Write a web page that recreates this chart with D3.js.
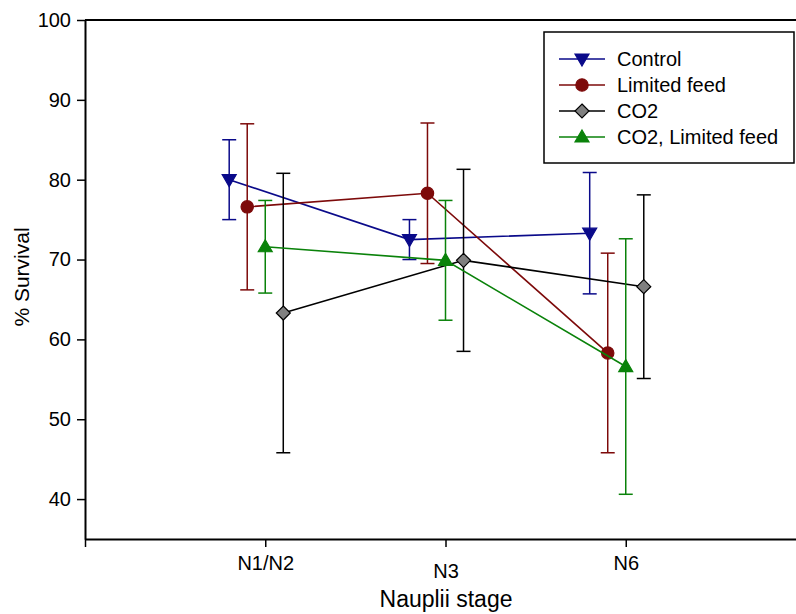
<!DOCTYPE html>
<html>
<head>
<meta charset="utf-8">
<script src="https://cdn.jsdelivr.net/npm/d3@7"></script>
<style>
  html, body { margin: 0; padding: 0; background: #fff; }
  svg { display: block; font-family: "Liberation Sans", Arial, sans-serif; }
</style>
</head>
<body>
<svg id="chart" width="796" height="614"></svg>
<script>
// ---- data ----
const categories = ["N1/N2", "N3", "N6"];
const yTicks = [40, 50, 60, 70, 80, 90, 100];

const controlMean = [80.0, 72.5, 73.3];
const controlErr  = [5.0, 2.5, 7.6];
const limitedMean = [76.6, 78.3, 58.3];
const limitedErr  = [10.4, 8.8, 12.5];
const co2Mean     = [63.3, 69.9, 66.6];
const co2Err      = [17.5, 11.4, 11.5];
const co2lfMean   = [71.6, 69.9, 56.6];
const co2lfErr    = [5.8, 7.5, 16.0];

const seriesNames = ["Control", "Limited feed", "CO2", "CO2, Limited feed"];

// ---- styles ----
const series = [
  { name: seriesNames[0], mean: controlMean, err: controlErr, off: -0.2, color: "#0a0a8a", fill: "#0a0a8a", stroke: "#0a0a8a", shape: "down" },
  { name: seriesNames[1], mean: limitedMean, err: limitedErr, off: -0.1, color: "#7d0a0a", fill: "#7d0a0a", stroke: "#7d0a0a", shape: "circle" },
  { name: seriesNames[2], mean: co2Mean, err: co2Err, off: 0.1, color: "#000000", fill: "#808080", stroke: "#000000", shape: "diamond" },
  { name: seriesNames[3], mean: co2lfMean, err: co2lfErr, off: 0.0, color: "#0a820a", fill: "#0a820a", stroke: "#0a820a", shape: "up" }
];

const svg = d3.select("#chart");
const x = d3.scaleLinear().domain([0, 4]).range([85, 806]);
const y = d3.scaleLinear().domain([35, 100]).range([539, 20]);

function symbolPath(shape) {
  if (shape === "circle") return d3.symbol(d3.symbolCircle, 120)();
  if (shape === "diamond") return "M0,-7L7,0L0,7L-7,0Z";
  if (shape === "up") return "M0,-7L7,5L-7,5Z";
  return "M0,7L7,-5L-7,-5Z";
}

// frame top line
svg.append("line")
  .attr("x1", x(0)).attr("x2", x(4))
  .attr("y1", y(100)).attr("y2", y(100))
  .attr("stroke", "#000").attr("stroke-width", 2);

// y axis
const yAxis = svg.append("g")
  .attr("transform", `translate(${x(0)},0)`)
  .call(d3.axisLeft(y).tickValues(yTicks).tickSize(8).tickPadding(6).tickSizeOuter(0));
yAxis.select(".domain").attr("stroke-width", 2);
yAxis.selectAll(".tick line").attr("stroke-width", 1.5);
yAxis.selectAll("text").attr("font-size", 20).attr("fill", "#000")
  .attr("font-family", "Liberation Sans, Arial, sans-serif");

// x axis
const xAxis = svg.append("g")
  .attr("transform", `translate(0,${y(35)})`)
  .call(d3.axisBottom(x).tickValues([0, 1, 2, 3, 4])
    .tickFormat(d => (d >= 1 && d <= 3) ? categories[d - 1] : "")
    .tickSize(8).tickPadding(9).tickSizeOuter(0));
xAxis.select(".domain").attr("stroke-width", 2);
xAxis.selectAll(".tick line").attr("stroke-width", 1.5);
xAxis.selectAll("text").attr("font-size", 20).attr("fill", "#000")
  .attr("font-family", "Liberation Sans, Arial, sans-serif")
  .attr("dy", d => d === 2 ? "1.1em" : "0.68em");

// axis titles
svg.append("text")
  .attr("x", 446).attr("y", 607)
  .attr("text-anchor", "middle")
  .attr("font-size", 23)
  .text("Nauplii stage");
svg.append("text")
  .attr("transform", `translate(29,277) rotate(-90)`)
  .attr("text-anchor", "middle")
  .attr("font-size", 21)
  .text("% Survival");

// series
const line = d3.line();
series.forEach(s => {
  const g = svg.append("g");
  const pts = s.mean.map((m, i) => [x(i + 1 + s.off), y(m)]);
  // error bars
  s.mean.forEach((m, i) => {
    const cx = x(i + 1 + s.off);
    const top = y(m + s.err[i]), bot = y(m - s.err[i]);
    g.append("line").attr("x1", cx).attr("x2", cx).attr("y1", top).attr("y2", bot)
      .attr("stroke", s.color).attr("stroke-width", 1.5);
    [top, bot].forEach(yy => {
      g.append("line").attr("x1", cx - 7).attr("x2", cx + 7).attr("y1", yy).attr("y2", yy)
        .attr("stroke", s.color).attr("stroke-width", 1.5);
    });
  });
  g.append("path").attr("d", line(pts)).attr("fill", "none")
    .attr("stroke", s.color).attr("stroke-width", 1.6);
  pts.forEach(p => {
    g.append("path").attr("d", symbolPath(s.shape))
      .attr("transform", `translate(${p[0]},${p[1]})`)
      .attr("fill", s.fill).attr("stroke", s.stroke).attr("stroke-width", 1.2);
  });
});

// legend
const lg = svg.append("g");
lg.append("rect").attr("x", 544).attr("y", 32).attr("width", 250).attr("height", 131)
  .attr("fill", "#fff").attr("stroke", "#000").attr("stroke-width", 1.5);
series.forEach((s, i) => {
  const yy = 59 + i * 26;
  lg.append("line").attr("x1", 559).attr("x2", 605).attr("y1", yy).attr("y2", yy)
    .attr("stroke", s.color).attr("stroke-width", 1.6);
  lg.append("path").attr("d", symbolPath(s.shape))
    .attr("transform", `translate(582,${yy})`)
    .attr("fill", s.fill).attr("stroke", s.stroke).attr("stroke-width", 1.2);
  lg.append("text").attr("x", 617).attr("y", yy).attr("dy", "0.35em")
    .attr("font-size", 20).text(s.name);
});
</script>
</body>
</html>
